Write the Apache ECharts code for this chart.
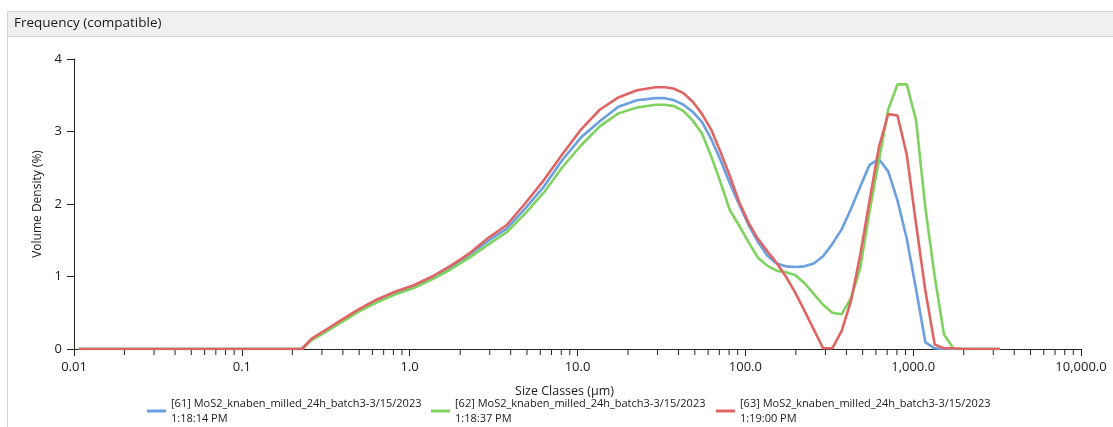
<!DOCTYPE html>
<html>
<head>
<meta charset="utf-8">
<script src="https://cdn.jsdelivr.net/npm/echarts@6/dist/echarts.min.js"></script>
<style>
html,body{margin:0;padding:0;background:#fff;}
#chart{width:1113px;height:427px;}
</style>
</head>
<body>
<div id="chart"></div>
<script>
// Size classes (µm)
const sizes = [0.01066, 0.2282, 0.2593, 0.2945, 0.3346, 0.3802, 0.4319, 0.4909, 0.6335, 0.8180,
  1.056, 1.363, 1.760, 2.271, 2.932, 3.785, 4.886, 6.306, 8.142, 10.51,
  13.57, 17.51, 22.60, 29.18, 33.15, 37.67, 42.80, 48.63, 55.25, 62.78,
  71.32, 81.03, 92.06, 104.6, 118.8, 135.0, 153.4, 174.3, 198.0, 225.0,
  255.6, 290.4, 329.9, 374.9, 425.9, 483.9, 549.8, 624.6, 709.7, 806.3,
  916.1, 1041, 1183, 1344, 1527, 1734, 1970, 2239, 2543, 2890, 3283];

// Volume density (%)
const blueVals = [0, 0, 0.13, 0.21, 0.29, 0.37, 0.45, 0.53, 0.67, 0.78,
  0.87, 0.99, 1.13, 1.30, 1.49, 1.66, 1.94, 2.24, 2.61, 2.92,
  3.14, 3.34, 3.43, 3.46, 3.46, 3.43, 3.37, 3.27, 3.13, 2.89,
  2.60, 2.28, 1.99, 1.71, 1.48, 1.29, 1.18, 1.14, 1.13, 1.14,
  1.18, 1.28, 1.45, 1.65, 1.93, 2.24, 2.54, 2.62, 2.45, 2.05,
  1.52, 0.82, 0.09, 0.01, 0, 0, 0, 0, 0, 0, 0];

const greenVals = [0, 0, 0.12, 0.19, 0.27, 0.35, 0.43, 0.51, 0.64, 0.75,
  0.84, 0.96, 1.10, 1.26, 1.44, 1.61, 1.87, 2.16, 2.51, 2.81,
  3.07, 3.25, 3.33, 3.37, 3.37, 3.35, 3.28, 3.15, 2.97, 2.65,
  2.29, 1.91, 1.70, 1.47, 1.26, 1.15, 1.08, 1.06, 1.02, 0.91,
  0.76, 0.61, 0.50, 0.48, 0.70, 1.12, 1.90, 2.60, 3.30, 3.65,
  3.65, 3.15, 1.94, 1.00, 0.20, 0.01, 0, 0, 0, 0, 0];

const redVals = [0, 0, 0.14, 0.22, 0.30, 0.38, 0.46, 0.54, 0.68, 0.79,
  0.88, 1.00, 1.15, 1.32, 1.53, 1.71, 2.01, 2.33, 2.69, 3.03,
  3.30, 3.47, 3.57, 3.61, 3.61, 3.59, 3.53, 3.41, 3.24, 3.02,
  2.71, 2.38, 2.02, 1.74, 1.52, 1.35, 1.19, 1.00, 0.78, 0.53,
  0.27, 0.01, 0.01, 0.25, 0.66, 1.30, 2.05, 2.78, 3.24, 3.22,
  2.68, 1.72, 0.80, 0.06, 0.01, 0.01, 0, 0, 0, 0, 0];

const seriesNames = [
  '[61] MoS2_knaben_milled_24h_batch3-3/15/2023\n1:18:14 PM',
  '[62] MoS2_knaben_milled_24h_batch3-3/15/2023\n1:18:37 PM',
  '[63] MoS2_knaben_milled_24h_batch3-3/15/2023\n1:19:00 PM'
];
const seriesColors = ['#6a9fe0', '#7ed35f', '#e06464'];
const xTickLabels = ['0.01', '0.1', '1.0', '10.0', '100.0', '1,000.0', '10,000.0'];
const yTickLabels = ['0', '1', '2', '3', '4'];

const FONT = '"Open Sans", "Noto Sans", sans-serif';

function pairs(vals) { return sizes.map((s, i) => [s, vals[i]]); }

// minor tick positions on the log axis (2..9 × each decade)
const minorTicks = [];
for (let d = -2; d < 4; d++) {
  for (let m = 2; m <= 9; m++) minorTicks.push([m * Math.pow(10, d), 0]);
}

const chart = echarts.init(document.getElementById('chart'), null, {renderer: 'canvas'});

const lineSeries = [blueVals, greenVals, redVals].map((vals, i) => ({
  name: seriesNames[i],
  type: 'line',
  data: pairs(vals),
  showSymbol: false,
  symbol: 'none',
  lineStyle: {color: seriesColors[i], width: 2.6},
  itemStyle: {color: seriesColors[i]},
  z: 2 + i
}));

const legendPos = [147, 431, 716];

chart.setOption({
  animation: false,
  textStyle: {fontFamily: FONT},
  graphic: [
    {type: 'rect', shape: {x: 7.5, y: 11.5, width: 1110, height: 25},
     style: {fill: '#f0f0f0', stroke: '#d4d4d4', lineWidth: 1}, z: 0},
    {type: 'line', shape: {x1: 7.5, y1: 36, x2: 7.5, y2: 427},
     style: {stroke: '#d4d4d4', lineWidth: 1}},
    {type: 'text', left: 14, top: 16,
     style: {text: 'Frequency (compatible)', fontSize: 13.5, fill: '#1a1a1a', fontFamily: FONT}}
  ],
  grid: {left: 74, right: 32, top: 59, bottom: 78, containLabel: false},
  legend: seriesNames.map((n, i) => ({
    data: [n],
    left: legendPos[i],
    top: 396,
    padding: 0,
    icon: 'rect',
    itemWidth: 19,
    itemHeight: 3,
    itemGap: 5,
    selectedMode: false,
    textStyle: {fontSize: 11, lineHeight: 15, color: '#1a1a1a', fontFamily: FONT}
  })),
  xAxis: {
    type: 'log',
    logBase: 10,
    min: 0.01,
    max: 10000,
    splitNumber: 6,
    name: 'Size Classes (µm)',
    nameLocation: 'middle',
    nameGap: 36,
    nameTextStyle: {fontSize: 12.5, color: '#1a1a1a', padding: [0, 26, 0, 0]},
    axisLine: {show: true, lineStyle: {color: '#222', width: 1}},
    axisTick: {show: true, inside: false, length: 7, lineStyle: {color: '#222'}},
    axisLabel: {
      margin: 12, fontSize: 13, color: '#1a1a1a',
      formatter: v => xTickLabels[Math.round(Math.log10(v)) + 2]
    },
    splitLine: {show: false}
  },
  yAxis: {
    type: 'value',
    min: 0,
    max: 4,
    interval: 1,
    name: 'Volume Density (%)',
    nameLocation: 'middle',
    nameGap: 20,
    nameTextStyle: {fontSize: 12, color: '#1a1a1a'},
    axisLine: {show: true, lineStyle: {color: '#222', width: 1}},
    axisTick: {show: true, inside: false, length: 7, lineStyle: {color: '#222'}},
    axisLabel: {margin: 12, fontSize: 13, color: '#1a1a1a',
      formatter: v => yTickLabels[Math.round(v)]},
    splitLine: {show: false}
  },
  series: [
    {
      type: 'custom',
      name: 'minorTicks',
      silent: true,
      clip: false,
      data: minorTicks,
      renderItem: function (params, api) {
        const p = api.coord([api.value(0), 0]);
        return {type: 'line', shape: {x1: p[0], y1: p[1], x2: p[0], y2: p[1] + 6},
          style: {stroke: '#222', lineWidth: 1}};
      },
      z: 1
    }
  ].concat(lineSeries)
});
</script>
</body>
</html>
